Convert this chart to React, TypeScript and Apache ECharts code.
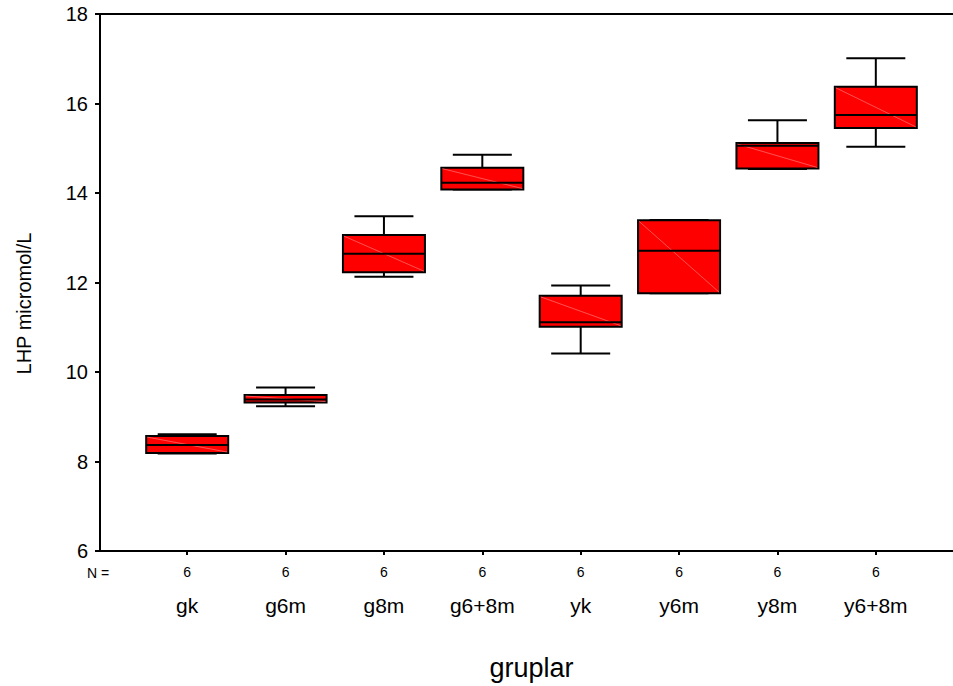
import React, { useEffect, useRef } from "react";
import * as echarts from "echarts";

const categories = ["gk", "g6m", "g8m", "g6+8m", "yk", "y6m", "y8m", "y6+8m"];
const nCounts = [6, 6, 6, 6, 6, 6, 6, 6];
const lows = [8.16, 9.22, 12.12, 14.07, 10.4, 11.75, 14.53, 15.03];
const q1s = [8.17, 9.3, 12.22, 14.07, 11.0, 11.75, 14.54, 15.45];
const medians = [8.35, 9.37, 12.63, 14.22, 11.1, 12.7, 15.05, 15.74];
const q3s = [8.55, 9.47, 13.05, 14.56, 11.69, 13.38, 15.11, 16.37];
const highs = [8.59, 9.64, 13.47, 14.85, 11.92, 13.39, 15.62, 17.01];
const yTicks = { min: 6, max: 18, interval: 2 };

const FONT = "'Liberation Sans', Arial, sans-serif";

export default function App() {
  const ref = useRef<HTMLDivElement>(null);
  useEffect(() => {
    if (!ref.current) return;
    const chart = echarts.init(ref.current, undefined, { renderer: "svg" });
    const data = categories.map((c, i) => [i, lows[i], q1s[i], medians[i], q3s[i], highs[i]]);
    const labelMap: Record<string, number> = {};
    categories.forEach((c, i) => (labelMap[c] = nCounts[i]));

    const renderItem = (params: any, api: any) => {
      const idx = api.value(0);
      const lo = api.coord([idx, api.value(1)]);
      const q1 = api.coord([idx, api.value(2)]);
      const md = api.coord([idx, api.value(3)]);
      const q3 = api.coord([idx, api.value(4)]);
      const hi = api.coord([idx, api.value(5)]);
      const x = md[0];
      const hb = 41;
      const hc = 29.5;
      const stroke = { stroke: "#000", lineWidth: 2 };
      return {
        type: "group",
        children: [
          { type: "line", shape: { x1: x, y1: hi[1], x2: x, y2: q3[1] }, style: stroke },
          { type: "line", shape: { x1: x - hc, y1: hi[1], x2: x + hc, y2: hi[1] }, style: stroke },
          { type: "line", shape: { x1: x, y1: lo[1], x2: x, y2: q1[1] }, style: stroke },
          { type: "line", shape: { x1: x - hc, y1: lo[1], x2: x + hc, y2: lo[1] }, style: stroke },
          {
            type: "rect",
            shape: { x: x - hb, y: q3[1], width: 2 * hb, height: q1[1] - q3[1] },
            style: { fill: "#ff0000", stroke: "#000", lineWidth: 2 },
          },
          {
            type: "line",
            shape: { x1: x - hb + 1, y1: q3[1] + 1, x2: x + hb - 1, y2: q1[1] - 1 },
            style: { stroke: "rgba(255,150,150,0.55)", lineWidth: 1 },
          },
          { type: "line", shape: { x1: x - hb, y1: md[1], x2: x + hb, y2: md[1] }, style: stroke },
        ],
      };
    };

    chart.setOption({
      animation: false,
      backgroundColor: "#fff",
      textStyle: { fontFamily: FONT },
      grid: [
        { left: 100, top: 14, width: 900, height: 537 },
        { left: 138, top: 14, width: 787, height: 537 },
      ],
      xAxis: [
        {
          type: "value", gridIndex: 0, min: 0, max: 1, position: "bottom",
          axisLine: { show: true, lineStyle: { color: "#000", width: 2 } },
          axisTick: { show: false }, axisLabel: { show: false }, splitLine: { show: false },
        },
        {
          type: "value", gridIndex: 0, min: 0, max: 1, position: "top",
          axisLine: { show: true, lineStyle: { color: "#000", width: 2 } },
          axisTick: { show: false }, axisLabel: { show: false }, splitLine: { show: false },
        },
        {
          type: "category", gridIndex: 1, data: categories, position: "bottom",
          axisLine: { show: false },
          axisTick: { show: true, alignWithLabel: true, length: 5, lineStyle: { color: "#000", width: 2 } },
          axisLabel: {
            margin: 12,
            interval: 0,
            formatter: (v: string) => `{n|${labelMap[v]}}\n{c|${v}}`,
            rich: {
              n: { fontSize: 14, lineHeight: 20, color: "#000", fontFamily: FONT },
              c: { fontSize: 21, lineHeight: 46, color: "#000", fontFamily: FONT },
            },
          },
          name: "gruplar",
          nameLocation: "middle",
          nameGap: 104,
          nameTextStyle: { fontSize: 27, color: "#000", fontFamily: FONT },
        },
      ],
      yAxis: [
        {
          type: "value", gridIndex: 0, min: yTicks.min, max: yTicks.max, interval: yTicks.interval,
          axisLine: { show: true, lineStyle: { color: "#000", width: 2 } },
          axisTick: { show: true, length: 5, lineStyle: { color: "#000", width: 2 } },
          axisLabel: { fontSize: 20, color: "#000", margin: 12, fontFamily: FONT },
          splitLine: { show: false },
          name: "LHP micromol/L",
          nameLocation: "middle",
          nameGap: 66,
          nameTextStyle: { fontSize: 20, color: "#000", fontFamily: FONT, padding: [0, 42, 0, 0] },
        },
        {
          type: "value", gridIndex: 1, min: yTicks.min, max: yTicks.max, show: false,
          splitLine: { show: false },
        },
      ],
      graphic: [
        {
          type: "text", left: 87, top: 566,
          style: { text: "N =", fontSize: 14, fill: "#000", fontFamily: FONT },
        },
      ],
      series: [
        {
          type: "custom",
          xAxisIndex: 2,
          yAxisIndex: 1,
          renderItem,
          encode: { x: 0, y: [1, 2, 3, 4, 5] },
          data,
        },
      ],
    });
    return () => chart.dispose();
  }, []);
  return (
    <div
      ref={ref}
      style={{ position: "fixed", left: 0, top: 0, width: 953, height: 686, background: "#fff" }}
    />
  );
}
